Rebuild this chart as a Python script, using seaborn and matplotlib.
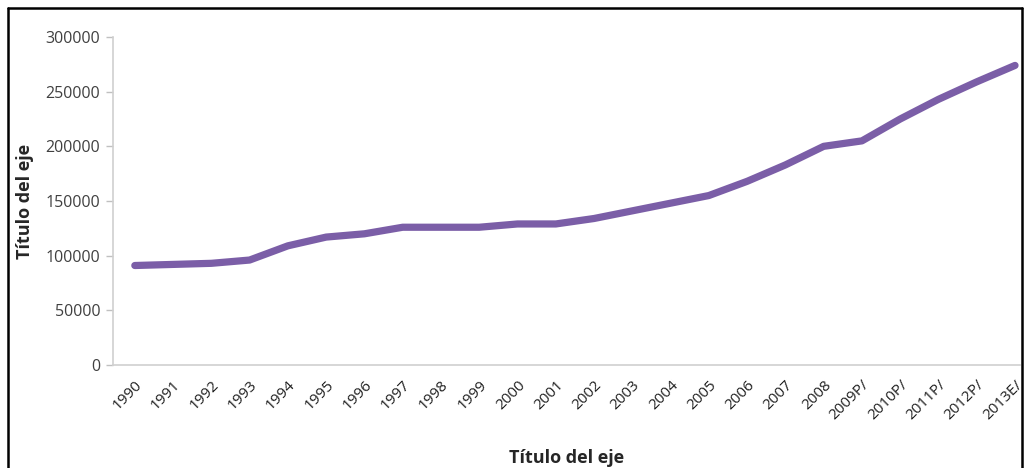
"""
Line chart: yearly series 1990-2013E
"""

import numpy as np
import pandas as pd
import matplotlib
matplotlib.use("Agg")
import matplotlib.pyplot as plt
from matplotlib.lines import Line2D
import seaborn as sns

years = ['1990', '1991', '1992', '1993', '1994', '1995', '1996', '1997', '1998',
         '1999', '2000', '2001', '2002', '2003', '2004', '2005', '2006', '2007',
         '2008', '2009P/', '2010P/', '2011P/', '2012P/', '2013E/']
values = [91000, 92000, 93000, 96000, 109000, 117000, 120000, 126000, 126000,
          126000, 129000, 129000, 134000, 141000, 148000, 155000, 168000, 183000,
          200000, 205000, 225000, 243000, 259000, 274000]
y_ticks = [0, 50000, 100000, 150000, 200000, 250000, 300000]

df = pd.DataFrame({'anio': years, 'valor': values})

sns.set_style('white')
plt.rcParams['font.family'] = ['Open Sans', 'DejaVu Sans']

fig = plt.figure(figsize=(10.24, 4.68), dpi=100)
ax = fig.add_axes([113/1024, 103/468, 907/1024, 328/468])

sns.lineplot(data=df, x='anio', y='valor', color='#7b5ea7', linewidth=5.2,
             solid_capstyle='round', ax=ax, sort=False)

ax.set_xlim(-0.57, 23.13)
ax.set_ylim(0, 300000)
ax.set_yticks(y_ticks)
ax.set_yticklabels([str(v) for v in y_ticks], fontsize=11.5, color='#404040')
ax.set_xticks(range(len(years)))
ax.set_xticklabels(years, rotation=45, ha='right', rotation_mode='anchor',
                   fontsize=11, color='#202020')
ax.tick_params(axis='y', length=5, width=1, color='#c0c0c0', pad=4, left=True)
ax.tick_params(axis='x', length=0, pad=9)

for side in ['top', 'right']:
    ax.spines[side].set_visible(False)
for side in ['left', 'bottom']:
    ax.spines[side].set_color('#d0d0d0')
    ax.spines[side].set_linewidth(1.2)

ax.set_xlabel('Título del eje', fontsize=13, fontweight='bold')
ax.set_ylabel('Título del eje', fontsize=13, fontweight='bold')
ax.xaxis.set_label_coords(0.5, -0.255)
ax.yaxis.set_label_coords(-0.087, 0.5)

# outer chart border
x0, x1, yt = 8/1024, 1022/1024, 1 - 8/468
for xs, ys in [([x0, x0], [0, yt]), ([x0, x1], [yt, yt]), ([x1, x1], [yt, 0])]:
    fig.add_artist(Line2D(xs, ys, color='black', linewidth=1.8, transform=fig.transFigure))

fig.savefig('out.png', dpi=100)
